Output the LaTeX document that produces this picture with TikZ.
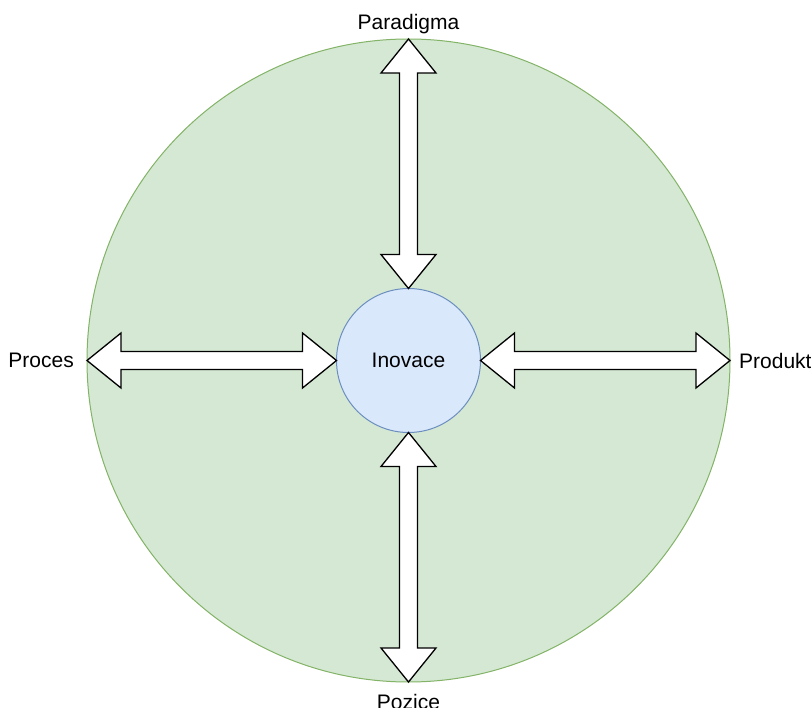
\documentclass[tikz,border=0pt]{standalone}
\usepackage{fontspec}
\setmainfont{Liberation Sans}
\usetikzlibrary{positioning,calc}

\definecolor{ringfill}{HTML}{D5E8D4}
\definecolor{ringline}{HTML}{82B366}
\definecolor{corefill}{HTML}{DAE8FC}
\definecolor{coreline}{HTML}{6C8EBF}

\tikzset{
    ring/.style={circle, draw=ringline, fill=ringfill, line width=1pt,
        inner sep=0pt, outer sep=0pt, minimum size=643pt},
    core/.style={circle, draw=coreline, fill=corefill, line width=1pt,
        inner sep=0pt, outer sep=0pt, minimum size=144pt,
        font=\fontsize{21}{25}\selectfont},
    lbl/.style={inner sep=0pt, font=\fontsize{21}{25}\selectfont},
    arrowbox/.style={draw=black, fill=white, line width=1.3pt, line join=miter},
}

% double block arrow between two anchors
\newcommand{\dblarrow}[2]{%
    \draw[arrowbox] let \p1=(#1), \p2=(#2),
        \n1={atan2(\y2-\y1,\x2-\x1)}, \n2={veclen(\x2-\x1,\y2-\y1)} in
        [shift={(\p1)}, rotate=\n1]
        (0,0) -- (34,27.5) -- (34,9) -- ({\n2-34},9) -- ({\n2-34},27.5) -- (\n2,0)
        -- ({\n2-34},-27.5) -- ({\n2-34},-9) -- (34,-9) -- (34,-27.5) -- cycle;}

\begin{document}
\begin{tikzpicture}[x=1pt, y=-1pt]

    \useasboundingbox (0,0) rectangle (811,708);

    \node[ring] (outer) at (408.5,360.5) {};
    \node[core] (inner) at (outer.center) {Inovace};

    \dblarrow{inner.north}{outer.north}
    \dblarrow{inner.south}{outer.south}
    \dblarrow{inner.west}{outer.west}
    \dblarrow{inner.east}{outer.east}

    \node[lbl, above=5pt of outer.north] (paradigma) {Paradigma};
    \node[lbl, below=12pt of outer.south] (pozice) {Pozice};
    \node[lbl, left=13pt of outer.west] (proces) {Proces};
    \node[lbl, right=9pt of outer.east] (produkt) {Produkt};

\end{tikzpicture}
\end{document}
